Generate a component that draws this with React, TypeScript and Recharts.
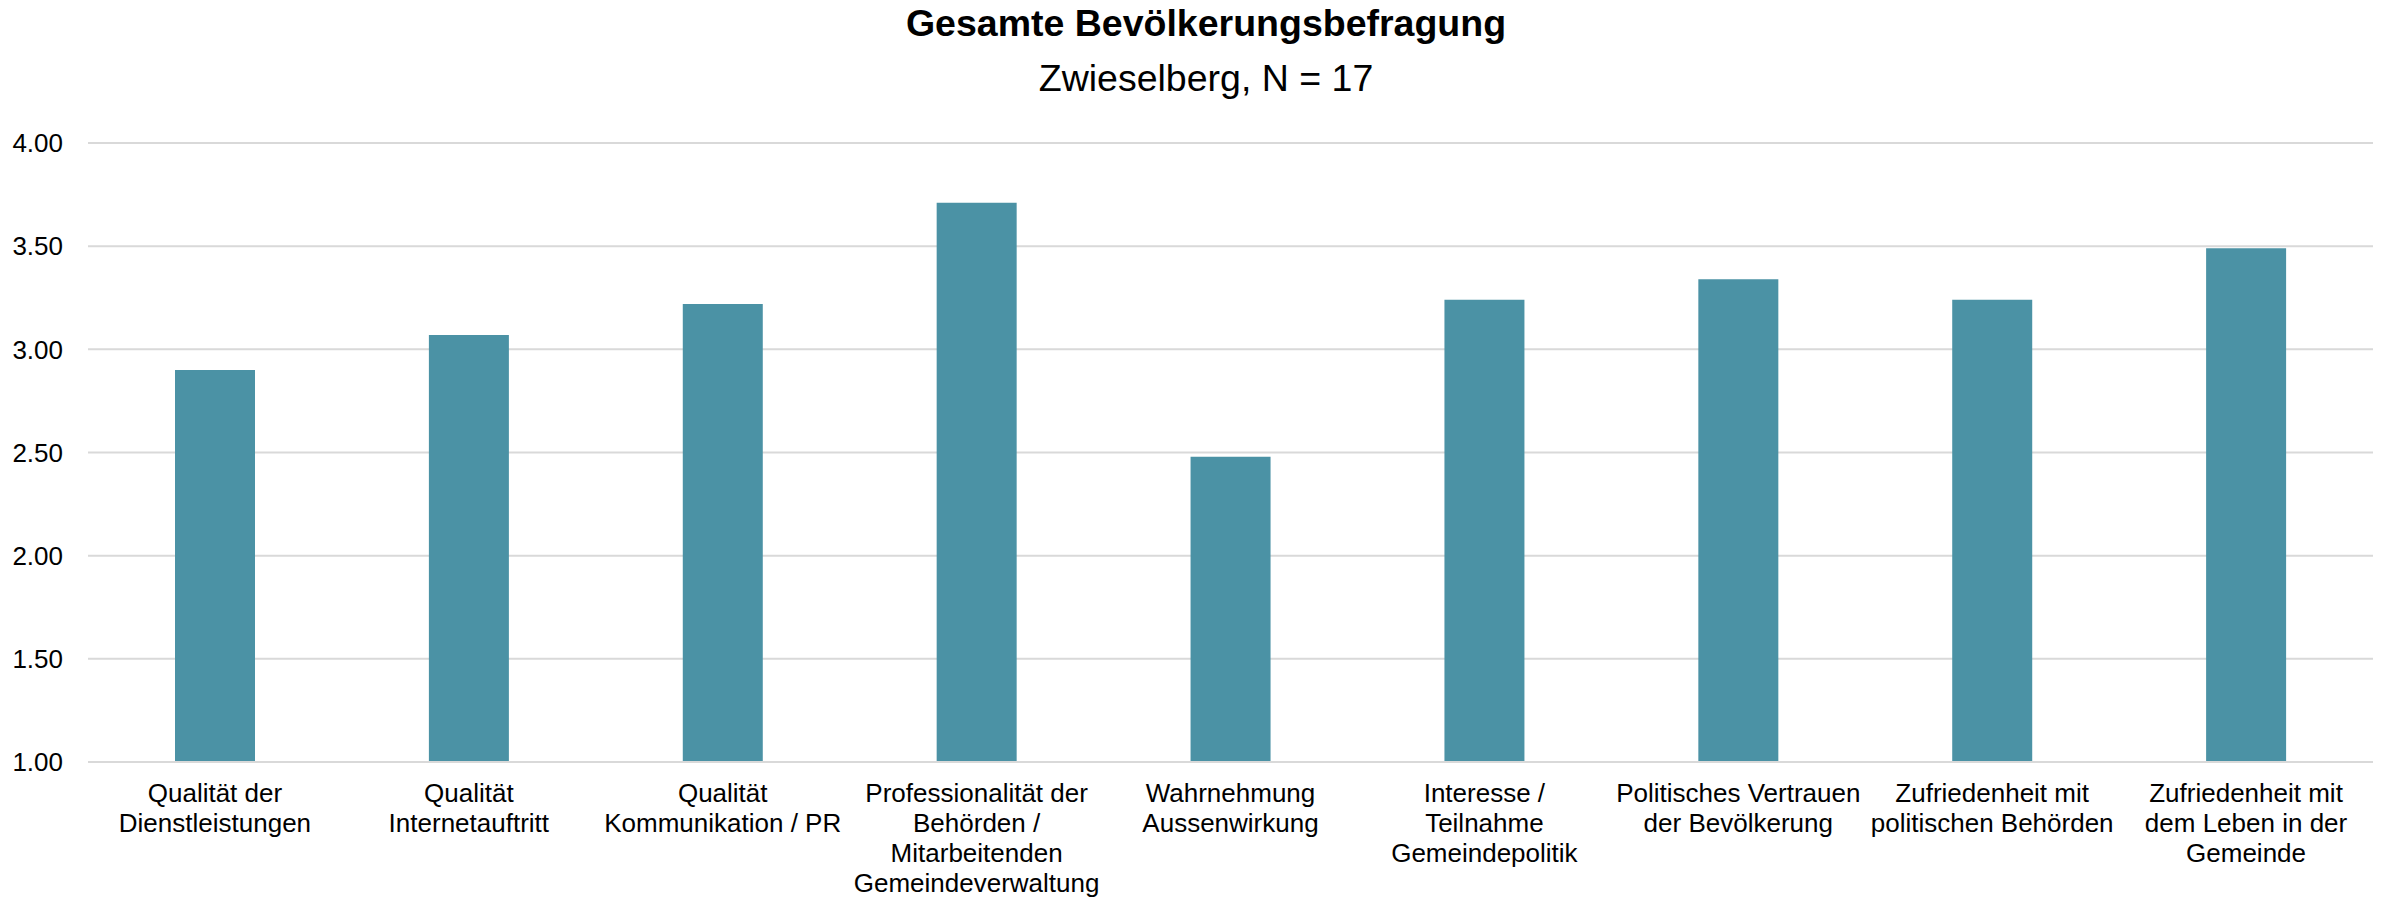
import React from "react";
import { BarChart, Bar, XAxis, YAxis, CartesianGrid } from "recharts";

const title = "Gesamte Bevölkerungsbefragung";
const subtitle = "Zwieselberg, N = 17";

const categories = [
  "Qualität der\nDienstleistungen",
  "Qualität\nInternetauftritt",
  "Qualität\nKommunikation / PR",
  "Professionalität der\nBehörden /\nMitarbeitenden\nGemeindeverwaltung",
  "Wahrnehmung\nAussenwirkung",
  "Interesse /\nTeilnahme\nGemeindepolitik",
  "Politisches Vertrauen\nder Bevölkerung",
  "Zufriedenheit mit\npolitischen Behörden",
  "Zufriedenheit mit\ndem Leben in der\nGemeinde",
];

const values = [2.9, 3.07, 3.22, 3.71, 2.48, 3.24, 3.34, 3.24, 3.49];

const yTicks = [1, 1.5, 2, 2.5, 3, 3.5, 4];

const data = categories.map((c, i) => ({ name: c, value: values[i] }));

const FONT = "'Liberation Sans', Arial, sans-serif";

const XTick = (props: any) => {
  const { x, y, payload } = props;
  const lines = String(payload.value).split("\n");
  return (
    <text
      x={x}
      y={y + 40}
      textAnchor="middle"
      fontFamily={FONT}
      fontSize={26}
      fill="#000"
    >
      {lines.map((l, i) => (
        <tspan key={i} x={x} dy={i === 0 ? 0 : 30}>
          {l}
        </tspan>
      ))}
    </text>
  );
};

export default function App() {
  const W = 2376;
  const H = 891;
  return (
    <div style={{ position: "relative", width: W, height: H }}>
      <BarChart
        width={W}
        height={H}
        data={data}
        margin={{ top: 135, right: 11, bottom: 107, left: 0 }}
        barCategoryGap={0}
      >
        <CartesianGrid
          horizontal={true}
          vertical={false}
          stroke="#d9d9d9"
          strokeWidth={2}
        />
        <XAxis
          dataKey="name"
          height={30}
          axisLine={{ stroke: "#d9d9d9", strokeWidth: 2 }}
          tickLine={false}
          tickSize={0}
          tickMargin={0}
          interval={0}
          tick={<XTick />}
        />
        <YAxis
          width={80}
          domain={[1, 4]}
          ticks={yTicks}
          axisLine={false}
          tickLine={false}
          tickSize={0}
          tickMargin={25}
          interval={0}
          tickFormatter={(v: number) => v.toFixed(2)}
          tick={{ fontFamily: FONT, fontSize: 26, fill: "#000" }}
        />
        <Bar
          dataKey="value"
          fill="#4B92A5"
          barSize={80}
          isAnimationActive={false}
        />
      </BarChart>
      <svg
        width={W}
        height={130}
        style={{ position: "absolute", left: 0, top: -8, pointerEvents: "none" }}
      >
        <text
          x={1198}
          y={36}
          textAnchor="middle"
          fontFamily={FONT}
          fontSize={37.5}
          fontWeight="bold"
          fill="#000"
        >
          {title}
        </text>
        <text
          x={1198}
          y={91}
          textAnchor="middle"
          fontFamily={FONT}
          fontSize={37.5}
          fill="#000"
        >
          {subtitle}
        </text>
      </svg>
    </div>
  );
}
